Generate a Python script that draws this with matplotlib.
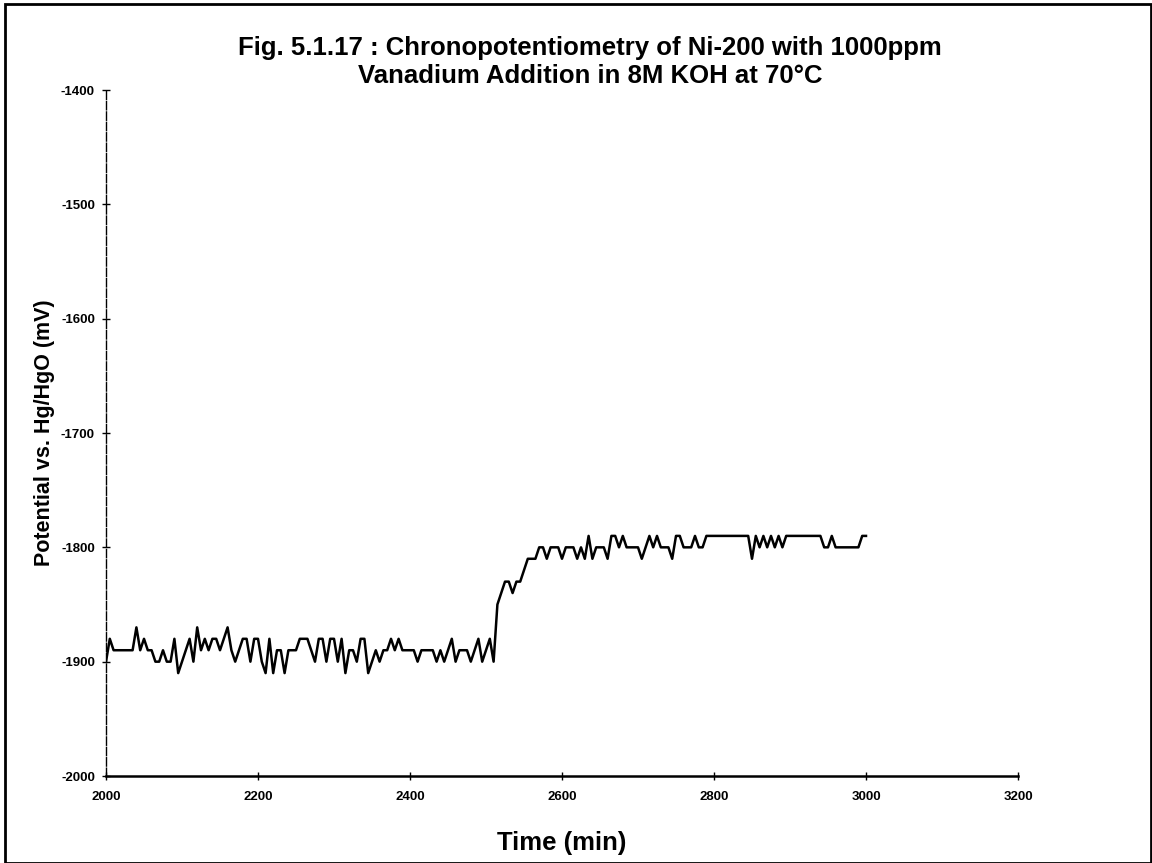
import matplotlib
matplotlib.use("Agg")
import matplotlib.pyplot as plt
from matplotlib.patches import Rectangle
import numpy as np

# ---- data ----
t_start = 2000
t_step = 5
potential_mV = [
    -1900, -1880, -1890, -1890, -1890, -1890, -1890, -1890, -1870, -1890,   # 2000-2045
    -1880, -1890, -1890, -1900, -1900, -1890, -1900, -1900, -1880, -1910,   # 2050-2095
    -1900, -1890, -1880, -1900, -1870, -1890, -1880, -1890, -1880, -1880,   # 2100-2145
    -1890, -1880, -1870, -1890, -1900, -1890, -1880, -1880, -1900, -1880,   # 2150-2195
    -1880, -1900, -1910, -1880, -1910, -1890, -1890, -1910, -1890, -1890,   # 2200-2245
    -1890, -1880, -1880, -1880, -1890, -1900, -1880, -1880, -1900, -1880,   # 2250-2295
    -1880, -1900, -1880, -1910, -1890, -1890, -1900, -1880, -1880, -1910,   # 2300-2345
    -1900, -1890, -1900, -1890, -1890, -1880, -1890, -1880, -1890, -1890,   # 2350-2395
    -1890, -1890, -1900, -1890, -1890, -1890, -1890, -1900, -1890, -1900,   # 2400-2445
    -1890, -1880, -1900, -1890, -1890, -1890, -1900, -1890, -1880, -1900,   # 2450-2495
    -1890, -1880, -1900, -1850, -1840, -1830, -1830, -1840, -1830, -1830,   # 2500-2545
    -1820, -1810, -1810, -1810, -1800, -1800, -1810, -1800, -1800, -1800,   # 2550-2595
    -1810, -1800, -1800, -1800, -1810, -1800, -1810, -1790, -1810, -1800,   # 2600-2645
    -1800, -1800, -1810, -1790, -1790, -1800, -1790, -1800, -1800, -1800,   # 2650-2695
    -1800, -1810, -1800, -1790, -1800, -1790, -1800, -1800, -1800, -1810,   # 2700-2745
    -1790, -1790, -1800, -1800, -1800, -1790, -1800, -1800, -1790, -1790,   # 2750-2795
    -1790, -1790, -1790, -1790, -1790, -1790, -1790, -1790, -1790, -1790,   # 2800-2845
    -1810, -1790, -1800, -1790, -1800, -1790, -1800, -1790, -1800, -1790,   # 2850-2895
    -1790, -1790, -1790, -1790, -1790, -1790, -1790, -1790, -1790, -1800,   # 2900-2945
    -1800, -1790, -1800, -1800, -1800, -1800, -1800, -1800, -1800, -1790,   # 2950-2995
    -1790,                                                                  # 3000
]
time_min = [t_start + i * t_step for i in range(len(potential_mV))]

x_ticks = [2000, 2200, 2400, 2600, 2800, 3000, 3200]
y_ticks = [-2000, -1900, -1800, -1700, -1600, -1500, -1400]

title = "Fig. 5.1.17 : Chronopotentiometry of Ni-200 with 1000ppm\nVanadium Addition in 8M KOH at 70°C"
xlabel = "Time (min)"
ylabel = "Potential vs. Hg/HgO (mV)"

plt.rcParams['font.family'] = ['Liberation Sans', 'DejaVu Sans']
tick_family = ['Liberation Sans Narrow', 'Liberation Sans', 'DejaVu Sans']

fig = plt.figure(figsize=(11.52, 8.63), dpi=100)
ax = fig.add_axes([106/1152, 1 - 776/863, (1018 - 106)/1152, (776 - 90)/863])

ax.plot(time_min, potential_mV, color='black', lw=1.8)

ax.set_xlim(2000, 3200)
ax.set_ylim(-2000, -1400)
ax.set_xticks(x_ticks)
ax.set_yticks(y_ticks)
ax.set_xticklabels([str(v) for v in x_ticks], fontsize=9.5, fontweight='bold', family=tick_family)
ax.set_yticklabels([str(v) for v in y_ticks], fontsize=9.5, fontweight='bold', family=tick_family)
ax.tick_params(axis='both', direction='inout', length=6, width=1, color='black')
ax.tick_params(axis='x', pad=8)
ax.tick_params(axis='y', pad=5)

for s in ['top', 'right']:
    ax.spines[s].set_visible(False)
ax.spines['bottom'].set_linewidth(1.8)
ax.spines['left'].set_linewidth(1.0)
ax.spines['left'].set_linestyle((0, (6, 1.5)))

ax.set_xlabel(xlabel, fontsize=18.5, fontweight='bold', labelpad=20)
ax.set_ylabel(ylabel, fontsize=15.5, fontweight='bold', labelpad=4)

fig.text(590/1152, 1 - 62/863, title, ha='center', va='center', fontsize=18.5,
         fontweight='bold', linespacing=1.2)

# figure frame
fig.patches.append(Rectangle((5/1152, 0.0), 1 - 6/1152, 1 - 4/863, transform=fig.transFigure,
                             fill=False, edgecolor='black', lw=2))

fig.savefig("out.png", dpi=100, facecolor='white')
